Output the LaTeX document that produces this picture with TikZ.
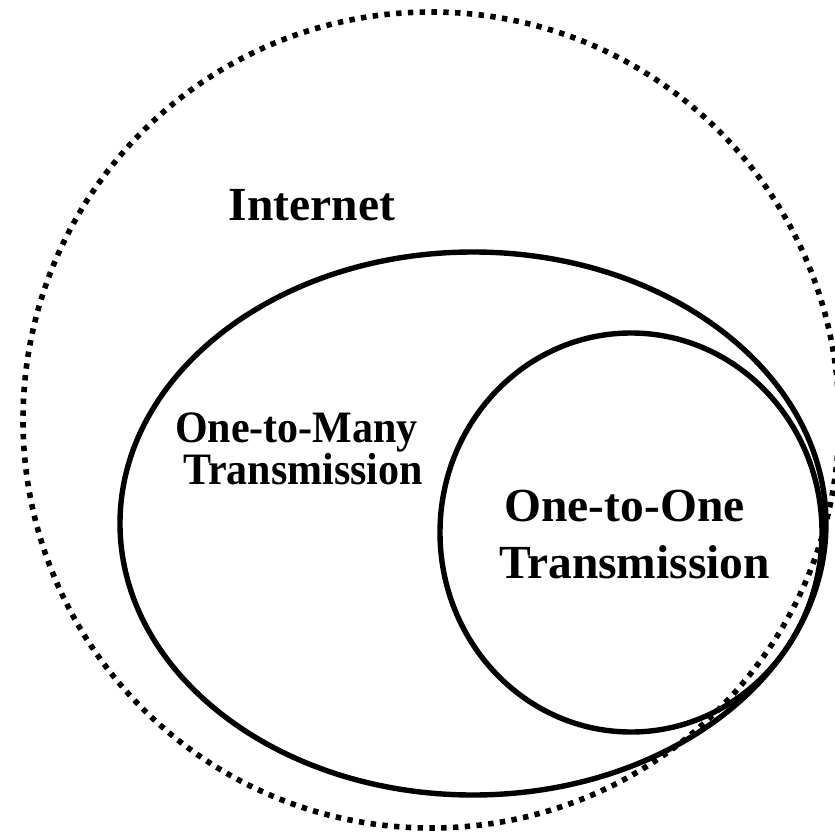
\documentclass[tikz,border=0pt]{standalone}
\usepackage{fontspec}
\setmainfont{Liberation Serif}
\tikzset{
  outerring/.style={line width=5.6pt, dash pattern=on 5.4pt off 6.4pt},
  ring/.style={line width=5.4pt},
  biglbl/.style={font=\bfseries\fontsize{47.5}{57}\selectfont, anchor=base, inner sep=0pt},
  midlbl/.style={font=\bfseries\fontsize{42}{50}\selectfont, anchor=base, inner sep=0pt}
}
\begin{document}
\begin{tikzpicture}[x=1pt,y=-1pt]
\useasboundingbox (0,0) rectangle (835,832);
\clip (0,0) rectangle (835,832);
% outer dotted circle (Internet)
\draw[outerring] (431,420) circle [radius=408];
% one-to-many ellipse
\draw[ring] (473,523.5) ellipse [x radius=353, y radius=271.5];
% one-to-one circle
\draw[ring] (631,532.5) ellipse [x radius=191, y radius=199.5];
% labels
\node[biglbl] (internet) at (312,220) {Internet};
\node[midlbl] (manyA) at (296.5,442.7) {\scalebox{1}[1.07]{One-to-Many}};
\node[midlbl] (manyB) at (303,484) {\scalebox{1}[1.07]{Transmission}};
\node[biglbl] (oneA) at (624.5,521.7) {One-to-One};
\node[biglbl] (oneB) at (634.5,578) {Transmission};
\end{tikzpicture}
\end{document}
